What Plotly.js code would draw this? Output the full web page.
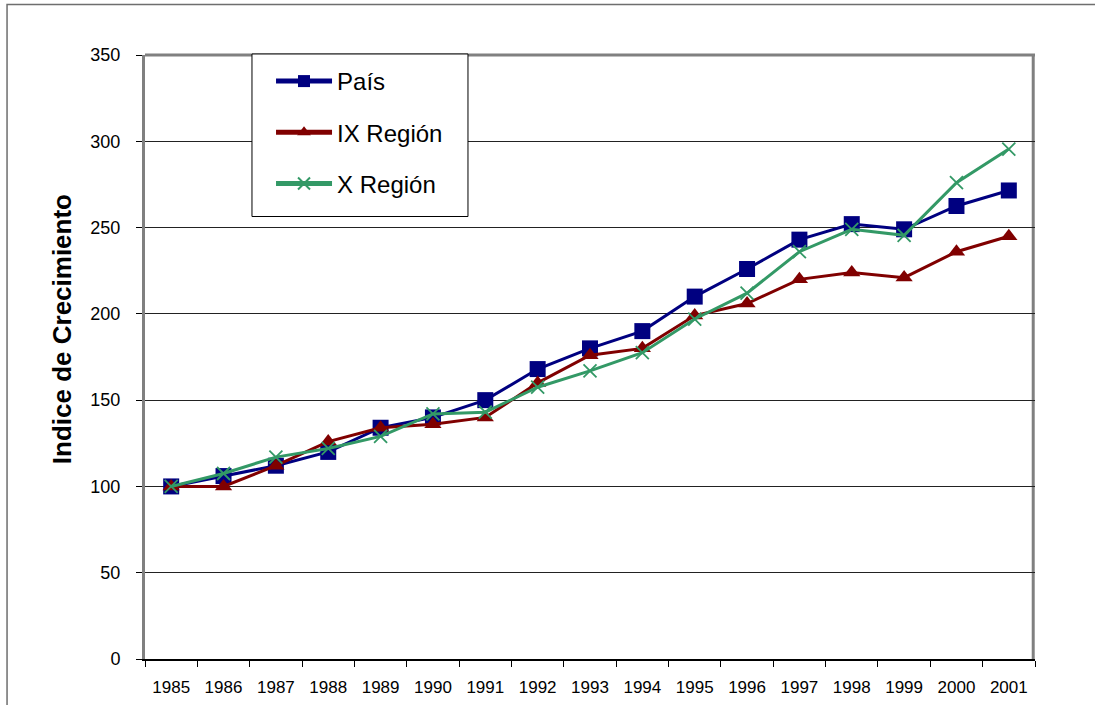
<!DOCTYPE html>
<html>
<head>
<meta charset="utf-8">
<script src="https://cdn.plot.ly/plotly-3.0.1.min.js"></script>
<style>
  html, body { margin: 0; padding: 0; background: #ffffff; }
  #chart { width: 1095px; height: 705px; }
</style>
</head>
<body>
<div id="chart"></div>
<script>
// ---- data ----
const years = ["1985","1986","1987","1988","1989","1990","1991","1992","1993","1994","1995","1996","1997","1998","1999","2000","2001"];
const pais = [100, 106, 112, 120, 134, 140, 150, 168, 180, 190, 210, 226, 243, 252, 249, 262.5, 271.5];
const ixRegion = [100, 100, 112, 126, 134, 136, 140, 160, 176, 180, 199, 206, 220, 224, 221, 236, 245];
const xRegion = [100, 107.5, 117, 122, 129, 142, 143, 157.5, 167, 177.5, 197, 212, 236, 249, 245.5, 276, 295.5];
const seriesNames = ["País", "IX Región", "X Región"];
const yAxisTitle = "Indice de Crecimiento";

const FONT = "Liberation Sans, Arial, sans-serif";

const traces = [
  {
    x: years, y: pais, name: seriesNames[0], type: "scatter", mode: "lines+markers",
    legendgroup: "a",
    line: {color: "#000080", width: 3},
    marker: {symbol: "square", size: 16, color: "#000080"}
  },
  {
    x: years, y: ixRegion, name: seriesNames[1], type: "scatter", mode: "lines+markers",
    legendgroup: "b",
    line: {color: "#800000", width: 3},
    marker: {symbol: "triangle-up", size: 15, color: "#800000"}
  },
  {
    x: years, y: xRegion, name: seriesNames[2], type: "scatter", mode: "lines+markers",
    legendgroup: "c",
    line: {color: "#339966", width: 3},
    marker: {symbol: "x-thin", size: 13, color: "#339966", line: {color: "#339966", width: 1.8}}
  }
];

const layout = {
  width: 1095, height: 705,
  margin: {l: 145, r: 60, t: 55, b: 46},
  paper_bgcolor: "#ffffff",
  plot_bgcolor: "#ffffff",
  font: {family: FONT, color: "#000000"},
  showlegend: true,
  legend: {
    x: 0.1416, xanchor: "left",
    y: 0.9934, yanchor: "top",
    bgcolor: "rgba(0,0,0,0)",
    borderwidth: 0,
    font: {family: FONT, size: 24, color: "#000000"},
    traceorder: "grouped",
    tracegroupgap: 17,
    itemwidth: 56,
    itemsizing: "constant"
  },
  xaxis: {
    type: "category",
    range: [-0.5, 16.5],
    tickson: "boundaries",
    ticks: "outside", ticklen: 6, tickcolor: "#000000", tickwidth: 1,
    showline: true, linecolor: "#000000", linewidth: 1.5,
    showgrid: false, zeroline: false,
    tickfont: {family: FONT, size: 17, color: "#000000"},
    ticklabelstandoff: 12,
    fixedrange: true
  },
  yaxis: {
    range: [0, 350],
    dtick: 50, tick0: 0,
    ticks: "outside", ticklen: 6, tickcolor: "#000000", tickwidth: 1,
    showline: true, linecolor: "#808080", linewidth: 3,
    showgrid: true, gridcolor: "#222222", gridwidth: 1,
    zeroline: false,
    tickfont: {family: FONT, size: 18, color: "#000000"},
    ticklabelstandoff: 12,
    fixedrange: true
  },
  annotations: [
    {text: yAxisTitle, xref: "paper", yref: "paper", x: -0.0933, y: 0.546,
     xanchor: "center", yanchor: "middle", textangle: -90, showarrow: false,
     font: {family: FONT, size: 26, color: "#000000", weight: "bold"}}
  ],
  shapes: [
    // outer chart frame
    {type: "rect", xref: "paper", yref: "paper", x0: -0.155, x1: 1.2, y0: -0.2, y1: 1.0836,
     line: {color: "#6e6e6e", width: 1.5}, fillcolor: "rgba(0,0,0,0)", layer: "below"},
    // plot area border
    {type: "line", xref: "paper", yref: "paper", x0: 0, x1: 1, y0: 1, y1: 1,
     line: {color: "#808080", width: 3}, layer: "below"},
    {type: "line", xref: "paper", yref: "paper", x0: 0.998, x1: 0.998, y0: 0, y1: 1,
     line: {color: "#808080", width: 3}, layer: "below"},
    // legend box
    {type: "rect", xref: "paper", yref: "paper", x0: 0.1202, x1: 0.3629, y0: 0.7326, y1: 1.0017,
     line: {color: "#000000", width: 1}, fillcolor: "#ffffff", layer: "above"}
  ]
};

Plotly.newPlot("chart", traces, layout, {displayModeBar: false, staticPlot: true});
</script>
</body>
</html>
